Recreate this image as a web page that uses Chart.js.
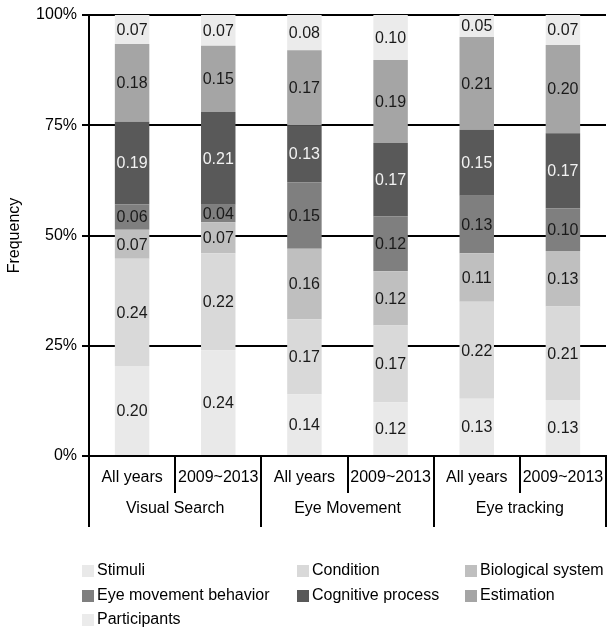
<!DOCTYPE html>
<html>
<head>
<meta charset="utf-8">
<script src="https://cdn.jsdelivr.net/npm/chart.js@4"></script>
<style>
  html, body { margin: 0; padding: 0; background: #fff; }
  #wrap { width: 608px; height: 632px; position: relative; }
</style>
</head>
<body>
<div id="wrap"><canvas id="chart" width="608" height="632"></canvas></div>
<script>
const categories = ["All years", "2009~2013", "All years", "2009~2013", "All years", "2009~2013"];
const groups = ["Visual Search", "Eye Movement", "Eye tracking"];
const seriesNames = ["Stimuli", "Condition", "Biological system", "Eye movement behavior", "Cognitive process", "Estimation", "Participants"];
const seriesColors = ["#e9e9e9", "#d9d9d9", "#bfbfbf", "#7f7f7f", "#595959", "#a5a5a5", "#ebebeb"];
const labelColors = ["#1a1a1a", "#1a1a1a", "#1a1a1a", "#1a1a1a", "#f2f2f2", "#1a1a1a", "#1a1a1a"];

// shares (labels are these rounded to 2 places)
const stimuli = [0.204, 0.24, 0.14, 0.122, 0.13, 0.127];
const condition = [0.243, 0.22, 0.17, 0.174, 0.22, 0.212];
const biological = [0.066, 0.07, 0.16, 0.123, 0.11, 0.126];
const eyeMovement = [0.058, 0.04, 0.15, 0.124, 0.13, 0.097];
const cognitive = [0.187, 0.21, 0.13, 0.167, 0.15, 0.170];
const estimation = [0.176, 0.15, 0.17, 0.188, 0.21, 0.200];
const participants = [0.066, 0.07, 0.08, 0.102, 0.05, 0.068];
const yTicks = [0, 0.25, 0.5, 0.75, 1];

const allSeries = [stimuli, condition, biological, eyeMovement, cognitive, estimation, participants];
const FONT = "'Liberation Sans', Arial, sans-serif";

// values inside each segment
const segmentLabels = {
  id: "segmentLabels",
  afterDatasetsDraw(chart) {
    const ctx = chart.ctx;
    ctx.save();
    ctx.font = "16px " + FONT;
    ctx.textAlign = "center";
    ctx.textBaseline = "middle";
    chart.data.datasets.forEach((ds, i) => {
      const meta = chart.getDatasetMeta(i);
      meta.data.forEach((bar, j) => {
        const top = Math.max(bar.y, chart.chartArea.top);
        ctx.fillStyle = labelColors[i];
        ctx.fillText(ds.data[j].toFixed(2), bar.x, (top + bar.base) / 2 + 1);
      });
    });
    ctx.restore();
  }
};

// category separators, group names and legend
const axisExtras = {
  id: "axisExtras",
  afterDraw(chart) {
    const ctx = chart.ctx;
    const x = chart.scales.x;
    const bottom = chart.chartArea.bottom;
    const step = x.getPixelForTick(1) - x.getPixelForTick(0);
    ctx.save();
    ctx.strokeStyle = "#000";
    ctx.lineWidth = 2;
    for (let i = 0; i <= categories.length; i++) {
      const px = Math.round(x.getPixelForTick(0) - step / 2 + i * step);
      const len = i % 2 === 0 ? 71 : 37;
      ctx.beginPath();
      ctx.moveTo(px, bottom);
      ctx.lineTo(px, bottom + len);
      ctx.stroke();
    }
    ctx.fillStyle = "#000";
    ctx.font = "16px " + FONT;
    ctx.textAlign = "center";
    ctx.textBaseline = "middle";
    groups.forEach((g, i) => {
      const cx = (x.getPixelForTick(i * 2) + x.getPixelForTick(i * 2 + 1)) / 2;
      ctx.fillText(g, cx, bottom + 53);
    });

    // legend
    const colX = [82, 297, 465];
    const rowY = [571, 596, 620];
    ctx.textAlign = "left";
    seriesNames.forEach((name, i) => {
      const cx = colX[i % 3];
      const cy = rowY[Math.floor(i / 3)];
      ctx.fillStyle = seriesColors[i];
      ctx.fillRect(cx, cy - 6, 12, 12);
      ctx.fillStyle = "#000";
      ctx.fillText(name, cx + 15, cy);
    });
    ctx.restore();
  }
};

new Chart(document.getElementById("chart"), {
  type: "bar",
  data: {
    labels: categories,
    datasets: seriesNames.map((name, i) => ({
      label: name,
      data: allSeries[i],
      backgroundColor: seriesColors[i],
      borderWidth: 0,
      barPercentage: 0.4,
      categoryPercentage: 1
    }))
  },
  options: {
    responsive: false,
    animation: false,
    layout: { padding: { top: 15, right: 2, left: 0, bottom: 0 } },
    plugins: {
      legend: { display: false },
      tooltip: { enabled: false }
    },
    scales: {
      x: {
        stacked: true,
        grid: { display: false },
        border: { color: "#000", width: 2 },
        ticks: { color: "#000", font: { family: FONT, size: 16 }, padding: 4, maxRotation: 0 },
        afterFit: (s) => { s.height = 176; }
      },
      y: {
        stacked: true,
        min: 0,
        max: 1,
        afterBuildTicks: (s) => { s.ticks = yTicks.map((v) => ({ value: v })); },
        ticks: {
          color: "#000",
          font: { family: FONT, size: 16 },
          padding: 5,
          callback: (v) => Math.round(v * 100) + "%"
        },
        grid: { color: "#000", lineWidth: 2, tickLength: 7 },
        border: { color: "#000", width: 2 },
        title: { display: true, text: "Frequency", color: "#000", font: { family: FONT, size: 16 }, padding: 5 },
        afterFit: (s) => { s.width = 89; }
      }
    }
  },
  plugins: [segmentLabels, axisExtras]
});
</script>
</body>
</html>
